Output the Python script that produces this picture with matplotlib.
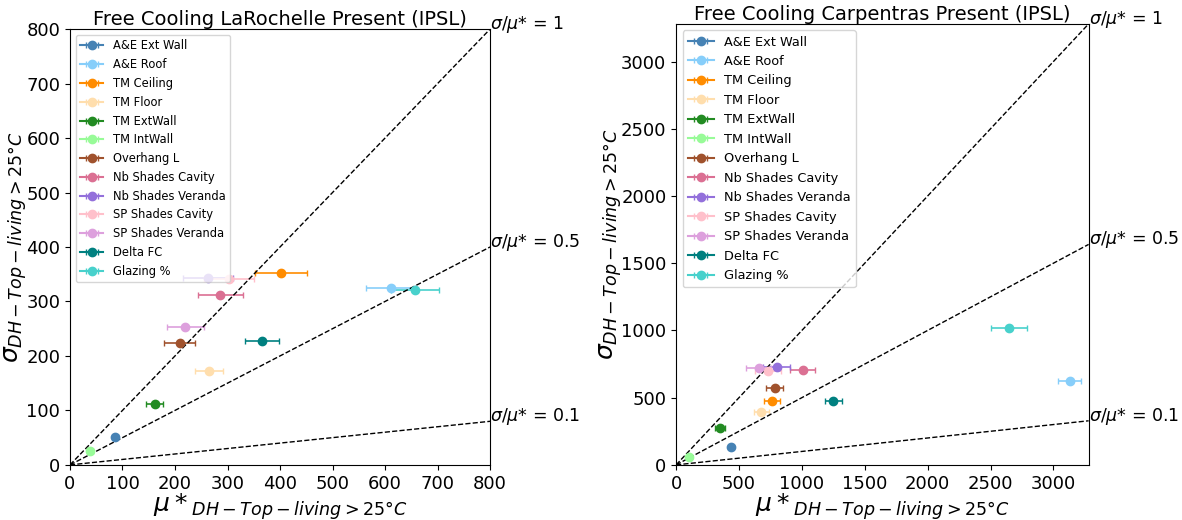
import numpy as np
import matplotlib
matplotlib.use('Agg')
import matplotlib.pyplot as plt

labels = ['A&E Ext Wall', 'A&E Roof', 'TM Ceiling', 'TM Floor', 'TM ExtWall', 'TM IntWall',
          'Overhang L', 'Nb Shades Cavity', 'Nb Shades Veranda', 'SP Shades Cavity',
          'SP Shades Veranda', 'Delta FC', 'Glazing %']
colors = ['steelblue', 'lightskyblue', 'darkorange', 'navajowhite', 'forestgreen', 'palegreen',
          'sienna', 'palevioletred', 'mediumpurple', 'pink', 'plum', 'teal', 'mediumturquoise']

# La Rochelle
mu_lr = [86, 611, 402, 265, 161, 39, 209, 286, 263, 303, 220, 366, 657]
sigma_lr = [52, 325, 353, 172, 111, 26, 223, 311, 343, 342, 253, 228, 321]
err_lr = [5, 47, 49, 26, 16, 4, 29, 43, 47, 48, 35, 32, 45]

# Carpentras
mu_cp = [438, 3130, 762, 677, 348, 104, 783, 1006, 799, 733, 656, 1251, 2645]
sigma_cp = [136, 624, 475, 393, 272, 59, 572, 708, 725, 695, 718, 477, 1019]
err_cp = [15, 93, 66, 58, 40, 10, 70, 100, 106, 104, 98, 69, 145]

ratios = [1, 0.5, 0.1]

fig = plt.figure(figsize=(11.82, 5.2), dpi=100)
ax1 = fig.add_axes([0.0592, 0.106, 0.3554, 0.838])
ax2 = fig.add_axes([0.572, 0.106, 0.349, 0.848])


def draw(ax, mu, sigma, err, lim, title, legsize):
    for i in range(len(labels)):
        ax.errorbar(mu[i], sigma[i], xerr=err[i], fmt='o-', color=colors[i],
                    capsize=2, elinewidth=1.2, markersize=6, label=labels[i])
    for r in ratios:
        ax.plot([0, lim], [0, r * lim], 'k--', linewidth=1)
        ax.text(lim, r * lim, r'$\sigma/\mu$* = ' + str(r), fontsize=12.5)
    ax.set_xlim(0, lim)
    ax.set_ylim(0, lim)
    ax.set_title(title, fontsize=14, pad=3)
    ax.set_xlabel(r'$\mu*_{DH-Top-living>25°C}$', fontsize=18, labelpad=-1)
    ax.set_ylabel(r'$\sigma_{DH-Top-living>25°C}$', fontsize=18, labelpad=-2)
    ax.tick_params(labelsize=13)
    ax.legend(loc='upper left', fontsize=legsize)


draw(ax1, mu_lr, sigma_lr, err_lr, 800, 'Free Cooling LaRochelle Present (IPSL)', 8.3)
draw(ax2, mu_cp, sigma_cp, err_cp, 3280, 'Free Cooling Carpentras Present (IPSL)', 9.3)
ax1.set_xticks(np.arange(0, 801, 100))
ax1.set_yticks(np.arange(0, 801, 100))
ax2.set_xticks(np.arange(0, 3001, 500))
ax2.set_yticks(np.arange(0, 3001, 500))

plt.savefig('out.png', dpi=100)
